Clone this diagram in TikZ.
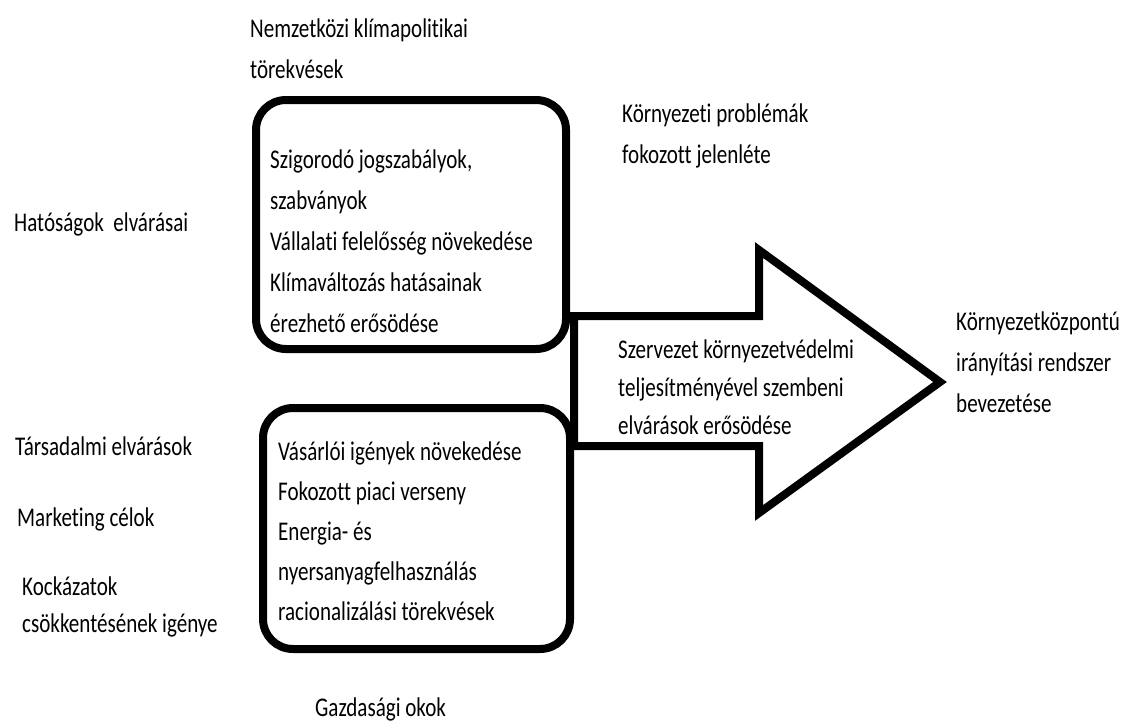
\documentclass[tikz,border=0pt]{standalone}
\usepackage{fontspec}
\setmainfont{Carlito}[FakeStretch=0.78, Ligatures=NoCommon]
\tikzset{txt/.style={anchor=west, align=left, inner sep=0pt, font=\fontsize{27}{41}\selectfont},
%thick rounded frames and the big arrow
frame/.style={line width=8pt, rounded corners=30pt},
bigarrow/.style={line width=8pt, line join=miter, fill=white}}
\begin{document}
\begin{tikzpicture}[x=1pt,y=-1pt]
\useasboundingbox (0,0) rectangle (1121,724);
% frames
\draw[frame] (256,100) rectangle (566,349);
\draw[frame] (263,408) rectangle (570,649);
% arrow
\draw[bigarrow] (574,316) -- (759,316) -- (759,250) -- (940,382) -- (759,513) -- (759,446) -- (574,446) -- cycle;

%labels
\node[txt] (intl) at (250,49) {Nemzetközi klímapolitikai\\törekvések};
\node[txt] (envprob) at (622,136) {Környezeti problémák\\fokozott jelenléte};
\node[txt] (auth) at (14,224) {Hatóságok\ \ elvárásai};
\node[txt] (legal) at (270,241) {Szigorodó jogszabályok,\\szabványok\\Vállalati felelősség növekedése\\Klímaváltozás hatásainak\\érezhető erősödése};
\node[txt, font=\fontsize{27}{38}\selectfont] (demand) at (618,387) {Szervezet környezetvédelmi\\teljesítményével szembeni\\elvárások erősödése};
\node[txt] (ems) at (956,362) {Környezetközpontú\\irányítási rendszer\\bevezetése};
\node[txt, font=\fontsize{27}{40}\selectfont] (market) at (278,531) {Vásárlói igények növekedése\\Fokozott piaci verseny\\Energia- és\\nyersanyagfelhasználás\\racionalizálási törekvések};
\node[txt] (social) at (15,446) {Társadalmi elvárások};
\node[txt] (mkt) at (17,519) {Marketing célok};
\node[txt, font=\fontsize{27}{37}\selectfont] (risk) at (22,607) {Kockázatok\\csökkentésének igénye};
\node[txt] (econ) at (315,709) {Gazdasági okok};
\end{tikzpicture}
\end{document}
